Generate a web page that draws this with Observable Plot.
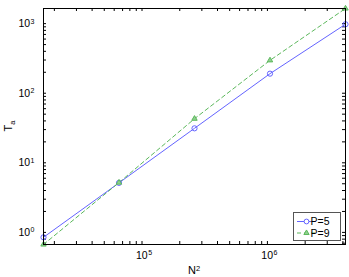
<!DOCTYPE html>
<html><head><meta charset="utf-8">
<script src="https://cdn.jsdelivr.net/npm/d3@7"></script>
<script src="https://cdn.jsdelivr.net/npm/@observablehq/plot@0.6"></script>
<style>
body{margin:0;background:#fff}
svg{font-family:"Liberation Sans",Arial,Helvetica,sans-serif}
</style>
</head><body><div id="chart"></div>
<script>
// ---- data ----
const N2 = [16384, 65536, 262144, 1048576, 4194304];
const P5 = [0.85, 5.15, 31.3, 191, 980];
const P9 = [0.67, 5.2, 43, 297, 1650];
const seriesNames = ["P=5", "P=9"];
const seriesColors = ["#6464ff", "#5cb85c"];
const xMajor = [1e5, 1e6];
const yMajor = [1, 10, 100, 1000];
const xTitle = ["N", "2"];
const yTitle = ["T", "a"];

// ---- layout ----
const W = 349, H = 277;
const mL = 43, mR = 4, mT = 8, mB = 33;
const pw = W - mL - mR, ph = H - mT - mB;
const tickLen = 3;

const rows5 = N2.map((x, i) => ({x, y: P5[i]}));
const rows9 = N2.map((x, i) => ({x, y: P9[i]}));
const xDomain = d3.extent(N2);
const yDomain = d3.extent([...P5, ...P9]);
const xTicksAll = d3.scaleLog().domain(xDomain).ticks();
const yTicksAll = d3.scaleLog().domain(yDomain).ticks();

const exp = d => "10^" + Math.round(Math.log10(d));

const chart = Plot.plot({
  width: W, height: H,
  marginLeft: mL, marginRight: mR, marginTop: mT, marginBottom: mB,
  style: {fontSize: "10.5px", fontFamily: "'Liberation Sans', Arial, sans-serif", background: "#fff"},
  x: {type: "log", domain: xDomain},
  y: {type: "log", domain: yDomain},
  marks: [
    Plot.ruleX(xTicksAll, {x: d => d, insetTop: ph - tickLen, stroke: "#000"}),
    Plot.ruleX(xTicksAll, {x: d => d, insetBottom: ph - tickLen, stroke: "#000"}),
    Plot.ruleY(yTicksAll, {y: d => d, insetRight: pw - tickLen, stroke: "#000"}),
    Plot.ruleY(yTicksAll, {y: d => d, insetLeft: pw - tickLen, stroke: "#000"}),
    Plot.axisX({ticks: xMajor, tickSize: 0, tickPadding: 7, tickFormat: exp, label: null}),
    Plot.axisY({ticks: yMajor, tickSize: 0, tickPadding: 9, tickFormat: exp, label: null}),
    Plot.line(rows5, {x: "x", y: "y", stroke: seriesColors[0], strokeWidth: 1}),
    Plot.line(rows9, {x: "x", y: "y", stroke: seriesColors[1], strokeWidth: 1, strokeDasharray: "4,3"}),
    Plot.dot(rows5, {x: "x", y: "y", symbol: "circle", r: 2.6, stroke: seriesColors[0], fill: "none", strokeWidth: 1}),
    Plot.dot(rows9, {x: "x", y: "y", symbol: "triangle", r: 2, stroke: seriesColors[1], fill: "#8fd08f", strokeWidth: 1}),
    Plot.frame({stroke: "#000", strokeWidth: 1})
  ]
});

document.getElementById("chart").append(chart);
const svg = d3.select(chart);

// superscript tick labels
svg.selectAll("[aria-label$='tick label'] text").each(function() {
  const t = d3.select(this);
  const s = t.text();
  if (!s.includes("^")) return;
  const [base, e] = s.split("^");
  t.text(base);
  t.append("tspan").attr("dy", "-0.5em").attr("dx", "0.5").attr("font-size", "7px").text(e);
});
svg.selectAll("[aria-label='x-axis tick label'] text").attr("dx", 2);

// axis titles
const xt = svg.append("text")
  .attr("x", mL + pw / 2).attr("y", H - 3)
  .attr("text-anchor", "middle").attr("font-size", "11px").attr("fill", "#000")
  .text(xTitle[0]);
xt.append("tspan").attr("dy", "-0.45em").attr("font-size", "7.5px").text(xTitle[1]);

const yt = svg.append("text")
  .attr("transform", `translate(${12},${mT + ph / 2}) rotate(-90)`)
  .attr("text-anchor", "middle").attr("font-size", "11px").attr("fill", "#000")
  .text(yTitle[0]);
yt.append("tspan").attr("dy", "0.35em").attr("font-size", "7.5px").text(yTitle[1]);

// legend
const lg = svg.append("g").attr("transform", `translate(${W - mR - 52},${H - mB - 32})`);
lg.append("rect").attr("x", 0.5).attr("y", 0.5).attr("width", 47).attr("height", 28)
  .attr("fill", "#fff").attr("stroke", "#555").attr("stroke-width", 1);
seriesNames.forEach((name, i) => {
  const cy = 9.5 + i * 11.5;
  lg.append("line").attr("x1", 4).attr("x2", 23).attr("y1", cy).attr("y2", cy)
    .attr("stroke", seriesColors[i]).attr("stroke-width", 1)
    .attr("stroke-dasharray", i === 1 ? "4,3" : null);
  if (i === 0) {
    lg.append("circle").attr("cx", 13.5).attr("cy", cy).attr("r", 2.4)
      .attr("fill", "#fff").attr("stroke", seriesColors[0]);
  } else {
    lg.append("path").attr("transform", `translate(13.5,${cy})`)
      .attr("d", d3.symbol(d3.symbolTriangle, 12)())
      .attr("fill", "#8fd08f").attr("stroke", seriesColors[1]);
  }
  lg.append("text").attr("x", 27).attr("y", cy).attr("dy", "0.35em")
    .attr("font-size", "10.5px").attr("fill", "#000").text(name);
});
</script>
</body></html>
